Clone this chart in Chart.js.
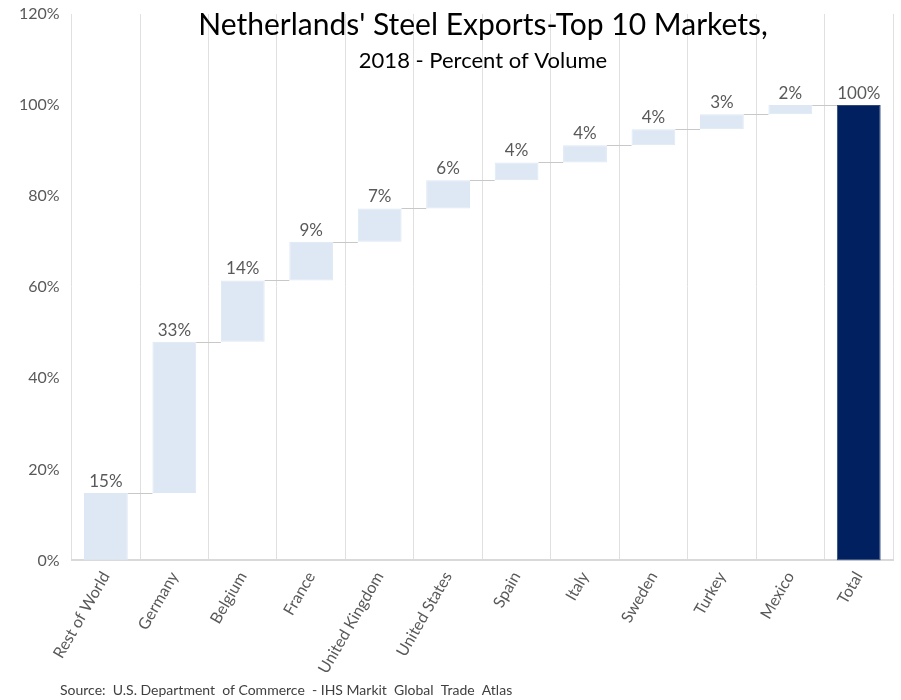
<!DOCTYPE html>
<html>
<head>
<meta charset="utf-8">
<script src="https://cdn.jsdelivr.net/npm/chart.js@4/dist/chart.umd.min.js"></script>
<style>
  html, body { margin: 0; padding: 0; background: #fff; }
  #wrap { width: 901px; height: 700px; position: relative; }
</style>
</head>
<body>
<div id="wrap"><canvas id="chart"></canvas></div>
<script>
const categories = ['Rest of World', 'Germany', 'Belgium', 'France', 'United Kingdom', 'United States',
    'Spain', 'Italy', 'Sweden', 'Turkey', 'Mexico', 'Total'];
// share of volume per market (percent), last entry is the total
const shares = [14.8, 33.2, 13.5, 8.5, 7.3, 6.2, 3.9, 3.8, 3.5, 3.3, 2.0, 100];
const yTicks = [0, 20, 40, 60, 80, 100, 120];

const FONT = 'Lato, "Open Sans", sans-serif';

// floating bars: [start, end] for each step, total sits on zero
let running = 0;
const ranges = shares.map((v, i) => {
    if (i === shares.length - 1) return [0, v];
    const r = [running, running + v];
    running += v;
    return r;
});

const barColors = categories.map((c, i) => i === categories.length - 1 ? '#002060' : '#DDE8F4');

const connectors = {
    id: 'connectors',
    afterDatasetsDraw(chart) {
        const ctx = chart.ctx;
        const meta = chart.getDatasetMeta(0);
        const y = chart.scales.y;
        ctx.save();
        ctx.strokeStyle = '#C8C8C8';
        ctx.lineWidth = 1;
        for (let i = 0; i < meta.data.length - 1; i++) {
            const a = meta.data[i], b = meta.data[i + 1];
            const py = Math.round(y.getPixelForValue(ranges[i][1])) + 0.5;
            ctx.beginPath();
            ctx.moveTo(a.x + a.width / 2, py);
            ctx.lineTo(b.x - b.width / 2, py);
            ctx.stroke();
        }
        // value labels
        ctx.fillStyle = '#595959';
        ctx.font = '17px ' + FONT;
        ctx.textAlign = 'center';
        ctx.textBaseline = 'bottom';
        meta.data.forEach((bar, i) => {
            const top = y.getPixelForValue(ranges[i][1]);
            ctx.fillText(Math.round(shares[i]) + '%', bar.x, top - 3);
        });
        ctx.restore();
    }
};

const titles = {
    id: 'titles',
    afterDraw(chart) {
        const ctx = chart.ctx;
        ctx.save();
        ctx.fillStyle = '#000';
        ctx.textAlign = 'center';
        ctx.textBaseline = 'middle';
        ctx.font = '30px ' + FONT;
        ctx.fillText("Netherlands' Steel Exports-Top 10 Markets,", 483, 25);
        ctx.font = '22px ' + FONT;
        ctx.fillText('2018 - Percent of Volume', 483, 61);
        ctx.textAlign = 'left';
        ctx.fillStyle = '#404040';
        ctx.font = '14px ' + FONT;
        ctx.fillText('Source:  U.S. Department  of Commerce  - IHS Markit  Global  Trade  Atlas', 60, 690);
        ctx.restore();
    }
};

new Chart(document.getElementById('chart'), {
    type: 'bar',
    data: {
        labels: categories,
        datasets: [{
            data: ranges,
            backgroundColor: barColors,
            borderColor: barColors.map((c, i) => i === categories.length - 1 ? '#2F4A7A' : c),
            borderWidth: 1,
            borderSkipped: false,
            categoryPercentage: 1,
            barPercentage: 0.64
        }]
    },
    options: {
        responsive: true,
        maintainAspectRatio: false,
        animation: false,
        layout: { padding: { top: 14, right: 8, bottom: 15, left: 7 } },
        plugins: {
            legend: { display: false },
            tooltip: { enabled: false }
        },
        scales: {
            y: {
                min: 0,
                max: 120,
                afterBuildTicks(axis) { axis.ticks = yTicks.map(v => ({ value: v })); },
                afterFit(axis) { axis.paddingTop = 0; },
                grid: { display: false, drawTicks: false },
                border: { display: false },
                ticks: {
                    color: '#595959',
                    font: { size: 16, family: FONT },
                    padding: 12,
                    callback: v => v + '%'
                }
            },
            x: {
                grid: { display: true, offset: true, color: '#E0E0E0', drawTicks: false },
                border: { display: true, color: '#D9D9D9', width: 2 },
                ticks: {
                    color: '#595959',
                    font: { size: 16, family: FONT },
                    minRotation: 60,
                    maxRotation: 60,
                    padding: 8
                }
            }
        }
    },
    plugins: [connectors, titles]
});
</script>
</body>
</html>
